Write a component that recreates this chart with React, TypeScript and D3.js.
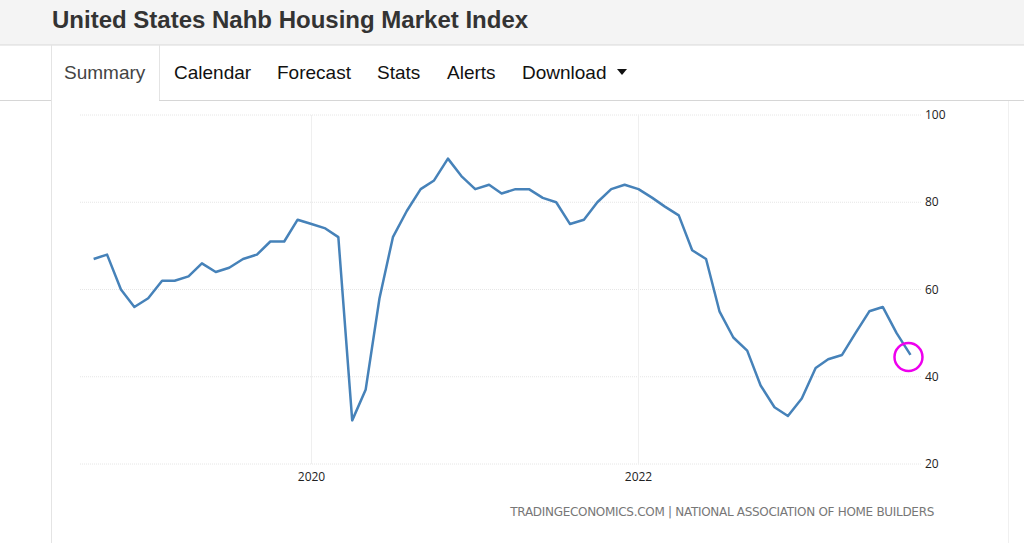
import React from 'react';
import * as d3 from 'd3';

const startYear = 2018;
const startMonth = 8; // September (0-based)
const hmiValues = [
  67, 68, 60, 56,
  58, 62, 62, 63, 66, 64, 65, 67, 68, 71, 71, 76,
  75, 74, 72, 30, 37, 58, 72, 78, 83, 85, 90, 86,
  83, 84, 82, 83, 83, 81, 80, 75, 76, 80, 83, 84,
  83, 81, 79, 77, 69, 67, 55, 49, 46, 38, 33, 31,
  35, 42, 44, 45, 50, 55, 56, 50, 45,
];
const yTicks = [20, 40, 60, 80, 100];
const xTickYears = [2020, 2022];
const tabs = ['Summary', 'Calendar', 'Forecast', 'Stats', 'Alerts', 'Download'];

const W = 1024;
const H = 543;

export default function App() {
  const dates = hmiValues.map((_, i) => new Date(startYear, startMonth + i, 1));
  const x = d3.scaleTime()
    .domain([new Date(2020, 0, 1), new Date(2022, 0, 1)])
    .range([311.5, 638.5]);
  const y = d3.scaleLinear().domain([20, 100]).range([464, 115]);
  const line = d3.line<number>()
    .x((_, i) => x(dates[i]))
    .y(d => y(d));

  const last = hmiValues.length - 1;
  const tabX = [64, 174, 277, 377, 447, 522];

  return (
    <svg width={W} height={H} style={{ position: 'absolute', left: 0, top: 0, fontFamily: 'Arial, "Liberation Sans", sans-serif' }}>
      <rect x={0} y={0} width={W} height={H} fill="#fff" />
      {/* header band */}
      <rect x={0} y={0} width={W} height={45} fill="#f4f4f4" />
      <line x1={0} x2={W} y1={45} y2={45} stroke="#d9d9d9" />
      <text x={52} y={28} fontSize={24} fontWeight="bold" fill="#333">United States Nahb Housing Market Index</text>

      {/* tabs */}
      <line x1={0} x2={51} y1={100.5} y2={100.5} stroke="#d6d6d6" />
      <line x1={159} x2={W} y1={100.5} y2={100.5} stroke="#d6d6d6" />
      <line x1={51.5} x2={51.5} y1={45} y2={H} stroke="#e4e4e4" />
      <line x1={159.5} x2={159.5} y1={45} y2={100} stroke="#e4e4e4" />
      <line x1={1008.5} x2={1008.5} y1={101} y2={H} stroke="#f0f0f0" />
      {tabs.map((t, i) => (
        <text key={t} x={tabX[i]} y={79} fontSize={19} fill={i === 0 ? '#444' : '#111'}>{t}</text>
      ))}
      <path d="M617,69 L627,69 L622,75 Z" fill="#111" />

      {/* grid */}
      {yTicks.map(t => (
        <g key={t}>
          <line x1={80} x2={922} y1={y(t)} y2={y(t)} stroke="#e6e6e6" strokeDasharray="1,1" />
          <text x={925} y={y(t) + 4} fontSize={12} fill="#222" fontFamily="'Open Sans', sans-serif">{t}</text>
        </g>
      ))}
      {xTickYears.map(yr => (
        <g key={yr}>
          <line x1={x(new Date(yr, 0, 1))} x2={x(new Date(yr, 0, 1))} y1={115} y2={464} stroke="#efefef" />
          <text x={x(new Date(yr, 0, 1))} y={481} fontSize={12} textAnchor="middle" fill="#222" fontFamily="'Open Sans', sans-serif">{yr}</text>
        </g>
      ))}

      <path d={line(hmiValues) ?? ''} fill="none" stroke="#4682b9" strokeWidth={2.5} strokeLinejoin="round" />
      <circle cx={x(dates[last])} cy={y(hmiValues[last])} r={14} fill="none" stroke="#ee00ee" strokeWidth={2.5} transform="translate(-2,2)" />

      <text x={934} y={516} fontSize={12} textAnchor="end" fill="#777" fontFamily="'DejaVu Sans', sans-serif" letterSpacing={-0.3}>TRADINGECONOMICS.COM | NATIONAL ASSOCIATION OF HOME BUILDERS</text>
    </svg>
  );
}
